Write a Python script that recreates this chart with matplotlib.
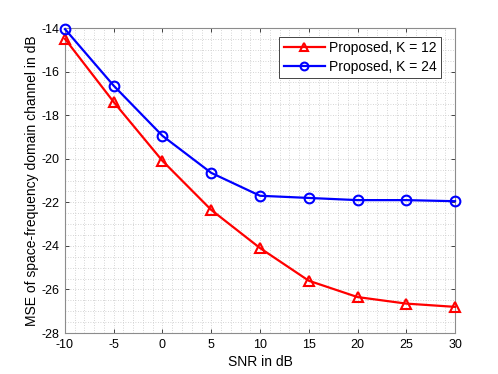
import matplotlib.pyplot as plt
import numpy as np
from matplotlib.ticker import MultipleLocator

plt.rcParams['font.family'] = ['Liberation Sans', 'DejaVu Sans']
plt.rcParams['axes.unicode_minus'] = False

snr = [-10, -5, 0, 5, 10, 15, 20, 25, 30]
mse_k12 = [-14.5, -17.4, -20.1, -22.35, -24.1, -25.6, -26.35, -26.65, -26.8]
mse_k24 = [-14.05, -16.65, -18.95, -20.65, -21.7, -21.8, -21.9, -21.9, -21.95]

fig = plt.figure(figsize=(4.98, 3.74), dpi=100)
ax = fig.add_axes([0.1305, 0.1096, 0.7832, 0.8155])

ax.plot(snr, mse_k12, color='red', lw=1.6, marker='^', ms=7, mfc='none', mew=1.5,
        label='Proposed, K = 12', clip_on=False, zorder=3)
ax.plot(snr, mse_k24, color='blue', lw=1.6, marker='o', ms=7, mfc='none', mew=1.5,
        label='Proposed, K = 24', clip_on=False, zorder=3)

ax.set_xlim(-10, 30)
ax.set_ylim(-28, -14)
ax.xaxis.set_major_locator(MultipleLocator(5))
ax.xaxis.set_minor_locator(MultipleLocator(1))
ax.yaxis.set_major_locator(MultipleLocator(2))
ax.yaxis.set_minor_locator(MultipleLocator(0.5))

ax.grid(which='both', color='#c8c8c8', linestyle=(0, (1, 2)), linewidth=0.6)
ax.set_axisbelow(True)
ax.tick_params(which='both', direction='in', labelsize=9, colors='#262626',
               top=True, right=True)
ax.tick_params(which='minor', length=0)
ax.tick_params(which='major', length=3, width=0.6, pad=4)
for s in ax.spines.values():
    s.set_color('#8c8c8c')
    s.set_linewidth(0.8)
for lab in ax.get_xticklabels() + ax.get_yticklabels():
    lab.set_color('black')

ax.set_xlabel('SNR in dB', fontsize=10, labelpad=3)
ax.set_ylabel('MSE of space-frequency domain channel in dB', fontsize=10, labelpad=2)

leg = ax.legend(loc='upper right', fontsize=10, frameon=True, fancybox=False,
                edgecolor='#262626', framealpha=1, handlelength=3.0, markerscale=0.8,
                bbox_to_anchor=(0.965, 0.972),
                borderaxespad=0.0, handletextpad=0.3, borderpad=0.3, labelspacing=0.35)
leg.get_frame().set_linewidth(0.6)

fig.savefig('out.png', dpi=100)
